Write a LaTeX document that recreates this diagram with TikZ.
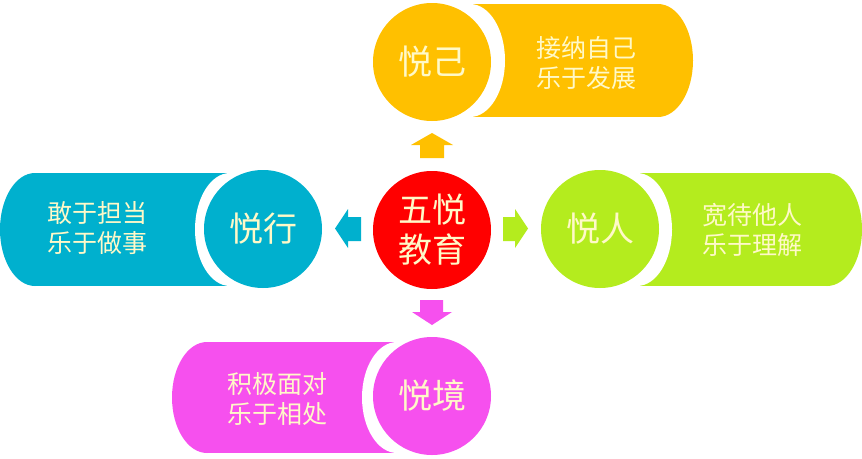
\documentclass[tikz,border=0pt]{standalone}
\usepackage{fontspec}
\newfontfamily\cjk{Noto Sans CJK SC}
\definecolor{cOrange}{HTML}{FFC000}
\definecolor{cCyan}{HTML}{00B0CE}
\definecolor{cGreen}{HTML}{B4EC1E}
\definecolor{cMagenta}{HTML}{F650EE}
\definecolor{cRed}{HTML}{FF0000}
\definecolor{cText}{HTML}{FFF9C8}
\tikzset{
  title/.style={circle,fill=#1,minimum size=118pt,inner sep=0pt,text=cText,
    font=\cjk\fontsize{34}{40}\selectfont,align=center},
  desc/.style={text=cText,font=\cjk\fontsize{25}{30}\selectfont,align=center,inner sep=0pt},
  gap/.style={fill=white},
}
\begin{document}
\begin{tikzpicture}[x=1pt,y=-1pt]
\useasboundingbox[fill=white] (0,0) rectangle (862,458);
% ---- top bar (悦己)
\fill[cOrange] (470,4) rectangle (658,117);
\fill[cOrange] (658,60.5) ellipse [x radius=35pt,y radius=56.5pt];
\fill[gap] (470,60.5) ellipse [x radius=35pt,y radius=56.5pt];
\node[title=cOrange] (ji) at (432,62) {悦己};
\node[desc] (jit) at (586,63) {接纳自己\\乐于发展};
% ---- left bar (悦行)
\fill[cCyan] (35,173) rectangle (230,286);
\fill[cCyan] (35,229.5) ellipse [x radius=35pt,y radius=56.5pt];
\fill[gap] (230,229.5) ellipse [x radius=35pt,y radius=56.5pt];
\node[title=cCyan] (xing) at (263,229) {悦行};
\node[desc] (xingt) at (97,228) {敢于担当\\乐于做事};
% ---- right bar (悦人)
\fill[cGreen] (637,173) rectangle (827,286);
\fill[cGreen] (827,229.5) ellipse [x radius=35pt,y radius=56.5pt];
\fill[gap] (637,229.5) ellipse [x radius=35pt,y radius=56.5pt];
\node[title=cGreen] (ren) at (600,229) {悦人};
\node[desc] (rent) at (752,230) {宽待他人\\乐于理解};
% ---- bottom bar (悦境)
\fill[cMagenta] (207,342) rectangle (397,453);
\fill[cMagenta] (207,397.5) ellipse [x radius=35pt,y radius=55.5pt];
\fill[gap] (397,397.5) ellipse [x radius=35pt,y radius=55.5pt];
\node[title=cMagenta] (jing) at (432,396) {悦境};
\node[desc] (jingt) at (277,399) {积极面对\\乐于相处};
% ---- centre
\node[title=cRed] (c) at (432,230) {五悦\\教育};
% ---- arrows
\fill[cOrange] (432,133) -- (453,145) -- (444,145) -- (444,158) -- (420,158) -- (420,145) -- (411,145) -- cycle;
\fill[cMagenta] (420,300) -- (443,300) -- (443,312) -- (452,312) -- (432,325) -- (412,312) -- (420,312) -- cycle;
\fill[cCyan] (335,228.5) -- (348,209) -- (348,217) -- (361,217) -- (361,241) -- (348,241) -- (348,248) -- cycle;
\fill[cGreen] (503,217) -- (515,217) -- (515,209) -- (528,228.5) -- (515,248) -- (515,241) -- (503,241) -- cycle;
\end{tikzpicture}
\end{document}
